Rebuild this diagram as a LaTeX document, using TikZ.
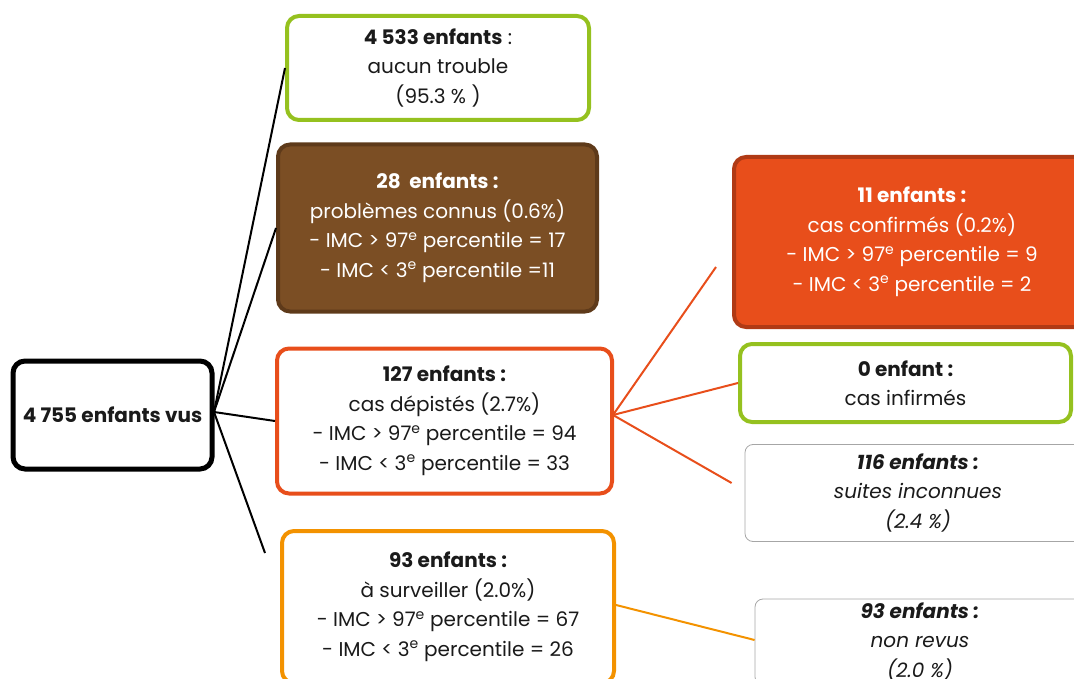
\documentclass[tikz,border=0pt]{standalone}
\usepackage{fontspec}
\setmainfont{Poppins}
\usepackage{tikz}
\usetikzlibrary{positioning}

\definecolor{vert}{HTML}{95C11F}
\definecolor{brun}{HTML}{7B4E24}
\definecolor{brunfonce}{HTML}{5E3A1A}
\definecolor{rouge}{HTML}{E84E1B}
\definecolor{rougefonce}{HTML}{B03A15}
\definecolor{jaune}{HTML}{F39200}
\definecolor{texte}{HTML}{1A1A1A}

\begin{document}
\begin{tikzpicture}[
            x=1pt, y=-1pt,
            box/.style={rectangle, rounded corners=12pt, align=center, inner sep=2pt, text=texte,
                font=\fontsize{20}{29.5}\selectfont},
            rootbox/.style={box, draw=black, line width=5pt, fill=white},
            okbox/.style={box, draw=vert, line width=4pt, fill=white},
            knownbox/.style={box, draw=brunfonce, line width=4pt, fill=brun, text=white},
            screenbox/.style={box, draw=rouge, line width=4pt, fill=white},
            watchbox/.style={box, draw=jaune, line width=4pt, fill=white},
            confbox/.style={box, draw=rougefonce, line width=4pt, fill=rouge, text=white},
            openbox/.style={box, rounded corners=8pt, draw=black!35, line width=0.8pt, fill=white},
            blackline/.style={draw=black, line width=2pt},
            redline/.style={draw=rouge, line width=2pt},
            orangeline/.style={draw=jaune, line width=2pt}
            ]

            \useasboundingbox (0,0) rectangle (1074,679);
            \clip (0,0) rectangle (1074,679);

            % Root
            \node[rootbox, minimum width=199pt, minimum height=108pt] (root) at (112.5,415) {\textbf{4 755 enfants vus}};

            % Level 1
            \node[okbox, minimum width=302pt, minimum height=104pt] (aucun) at (438,68)
                {\textbf{4 533 enfants} :\\aucun trouble\\(95.3 \% )};
            \node[knownbox, minimum width=319pt, minimum height=167pt] (connus) at (437.5,228)
                {\textbf{28~ enfants :}\\problèmes connus (0.6\%)\\- IMC > 97\textsuperscript{e} percentile = 17\\- IMC < 3\textsuperscript{e} percentile =11};
            \node[screenbox, minimum width=335pt, minimum height=145pt] (depist) at (444.5,421)
                {\textbf{127 enfants :}\\cas dépistés (2.7\%)\\- IMC > 97\textsuperscript{e} percentile = 94\\- IMC < 3\textsuperscript{e} percentile = 33};
            \node[watchbox, minimum width=332pt, minimum height=152pt] (surv) at (448,607)
                {\textbf{93 enfants :}\\à surveiller (2.0\%)\\- IMC > 97\textsuperscript{e} percentile = 67\\- IMC < 3\textsuperscript{e} percentile = 26};

            % Level 2
            \node[confbox, minimum width=356pt, minimum height=170pt] (conf) at (912,242)
                {\textbf{11 enfants :}\\cas confirmés (0.2\%)\\- IMC > 97\textsuperscript{e} percentile = 9\\- IMC < 3\textsuperscript{e} percentile = 2};
            \node[okbox, minimum width=331pt, minimum height=78pt] (infirm) at (905.5,383)
                {\textbf{0 enfant :}\\cas infirmés};
            \node[openbox, minimum width=346pt, minimum height=97pt] (inconnu) at (918,493)
                {\textbf{\itshape 116 enfants :}\\\itshape suites inconnues\\\itshape (2.4 \%)};
            \node[openbox, minimum width=330pt, minimum height=86pt] (nonrevus) at (920,642)
                {\textbf{\itshape 93 enfants :}\\\itshape non revus\\\itshape (2.0 \%)};

            % Connectors
            \coordinate (hub) at (214,412);
            \coordinate (survend) at (265,553);
            \coordinate (confend) at (716,267);
            \coordinate (split) at (613,415);
            \draw[blackline] (hub) -- (aucun.west);
            \draw[blackline] (hub) -- (connus.west);
            \draw[blackline] (hub) -- (depist.west);
            \draw[blackline] (hub) -- (survend);

            \draw[redline] (split) -- (confend);
            \draw[redline] (split) -- (infirm.west);
            \draw[redline] (split) -- ([xshift=-13pt]inconnu.west |- 0,483);

            \draw[orangeline] (surv.east |- 0,605) -- (nonrevus.west |- 0,640);

        \end{tikzpicture}
\end{document}
